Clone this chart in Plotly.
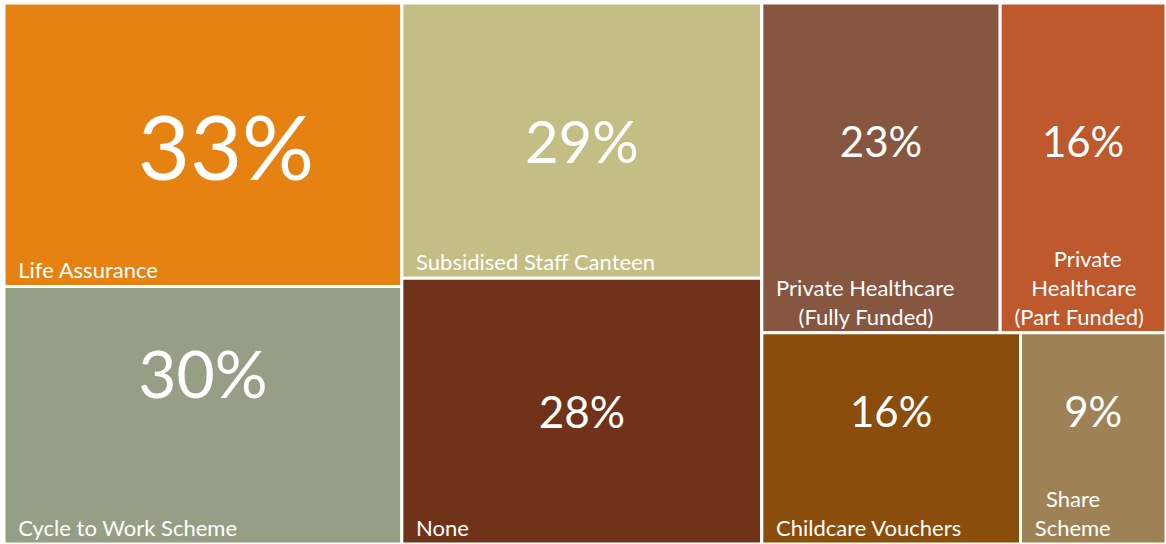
import plotly.graph_objects as go

# Data
labels = ["Life Assurance", "Cycle to Work Scheme", "Subsidised Staff Canteen", "None",
          "Private Healthcare (Fully Funded)", "Private Healthcare (Part Funded)",
          "Childcare Vouchers", "Share Scheme"]
values = [33, 30, 29, 28, 23, 16, 16, 9]
groups = ["g1", "g1", "g2", "g2", "r1", "r1", "r2", "r2"]
N = "&nbsp;"
tile_labels = [N * 2 + "Life Assurance", N * 2 + "Cycle to Work Scheme",
               N * 2 + "Subsidised Staff Canteen", N * 2 + "None",
               N * 2 + "Private Healthcare<br>" + N * 6 + "(Fully Funded)",
               N * 9 + "Private<br>" + N * 5 + "Healthcare<br>" + N * 2 + "(Part Funded)",
               N * 2 + "Childcare Vouchers", N * 4 + "Share<br>" + N * 2 + "Scheme"]
colors = ["#E58212", "#949F86", "#C3BE84", "#70331A", "#875641", "#BE582D", "#8B4D0B", "#9E8256"]
pct_sizes = [90, 66, 58, 44, 42, 42, 42, 42]
pct_lift = [False, True, False, False, True, True, True, True]
pct_indent = [2, 0, 0, 0, 0, 0, 0, 0]

# Hierarchy (hidden parents)
parent_ids = ["all", "g1", "g2", "g3", "r1", "r2"]
parent_parents = ["", "all", "all", "all", "g3", "g3"]

ids = parent_ids + labels
parents = parent_parents + groups

def sum_of(key):
    return sum(v for v, g in zip(values, groups) if g == key)

pv = {"g1": sum_of("g1"), "g2": sum_of("g2"), "r1": sum_of("r1"), "r2": sum_of("r2")}
pv["g3"] = pv["r1"] + pv["r2"]
pv["all"] = pv["g1"] + pv["g2"] + pv["g3"]
vals = [pv[p] for p in parent_ids] + values

label_text = [""] * len(parent_ids) + tile_labels
pct_text = [""] * len(parent_ids) + [
    N * ind + f"{v}%" + ("<br>&nbsp;" if lift else "")
    for v, lift, ind in zip(values, pct_lift, pct_indent)]

fill = ["#FFFFFF"] * len(parent_ids) + colors
clear = ["rgba(0,0,0,0)"] * len(ids)

FONT = "Lato, 'Open Sans', sans-serif"
dom = dict(x=[4 / 1166, 1], y=[0, 1 - 3 / 544])
pad = dict(t=0, l=0, r=0, b=0)

fig = go.Figure()
fig.add_trace(go.Treemap(
    ids=ids, labels=ids, parents=parents, values=vals, branchvalues="total",
    sort=False, tiling=dict(packing="slice-dice", pad=0),
    marker=dict(colors=fill, line=dict(color="#FFFFFF", width=3), pad=pad),
    text=label_text, texttemplate="%{text}", textposition="bottom left",
    textfont=dict(family=FONT, size=22, color="#FFFFFF"),
    pathbar=dict(visible=False), domain=dom, hoverinfo="skip",
))
fig.add_trace(go.Treemap(
    ids=ids, labels=ids, parents=parents, values=vals, branchvalues="total",
    sort=False, tiling=dict(packing="slice-dice", pad=0),
    marker=dict(colors=clear, line=dict(width=0), pad=pad),
    text=pct_text, texttemplate="%{text}", textposition="middle center",
    textfont=dict(family=FONT, size=[10] * len(parent_ids) + pct_sizes, color="#FFFFFF"),
    pathbar=dict(visible=False), domain=dom, hoverinfo="skip",
))
fig.update_layout(
    width=1166, height=544, margin=dict(l=0, r=0, t=0, b=0),
    paper_bgcolor="#FFFFFF", plot_bgcolor="#FFFFFF", showlegend=False,
)
fig.write_html("out.html")
